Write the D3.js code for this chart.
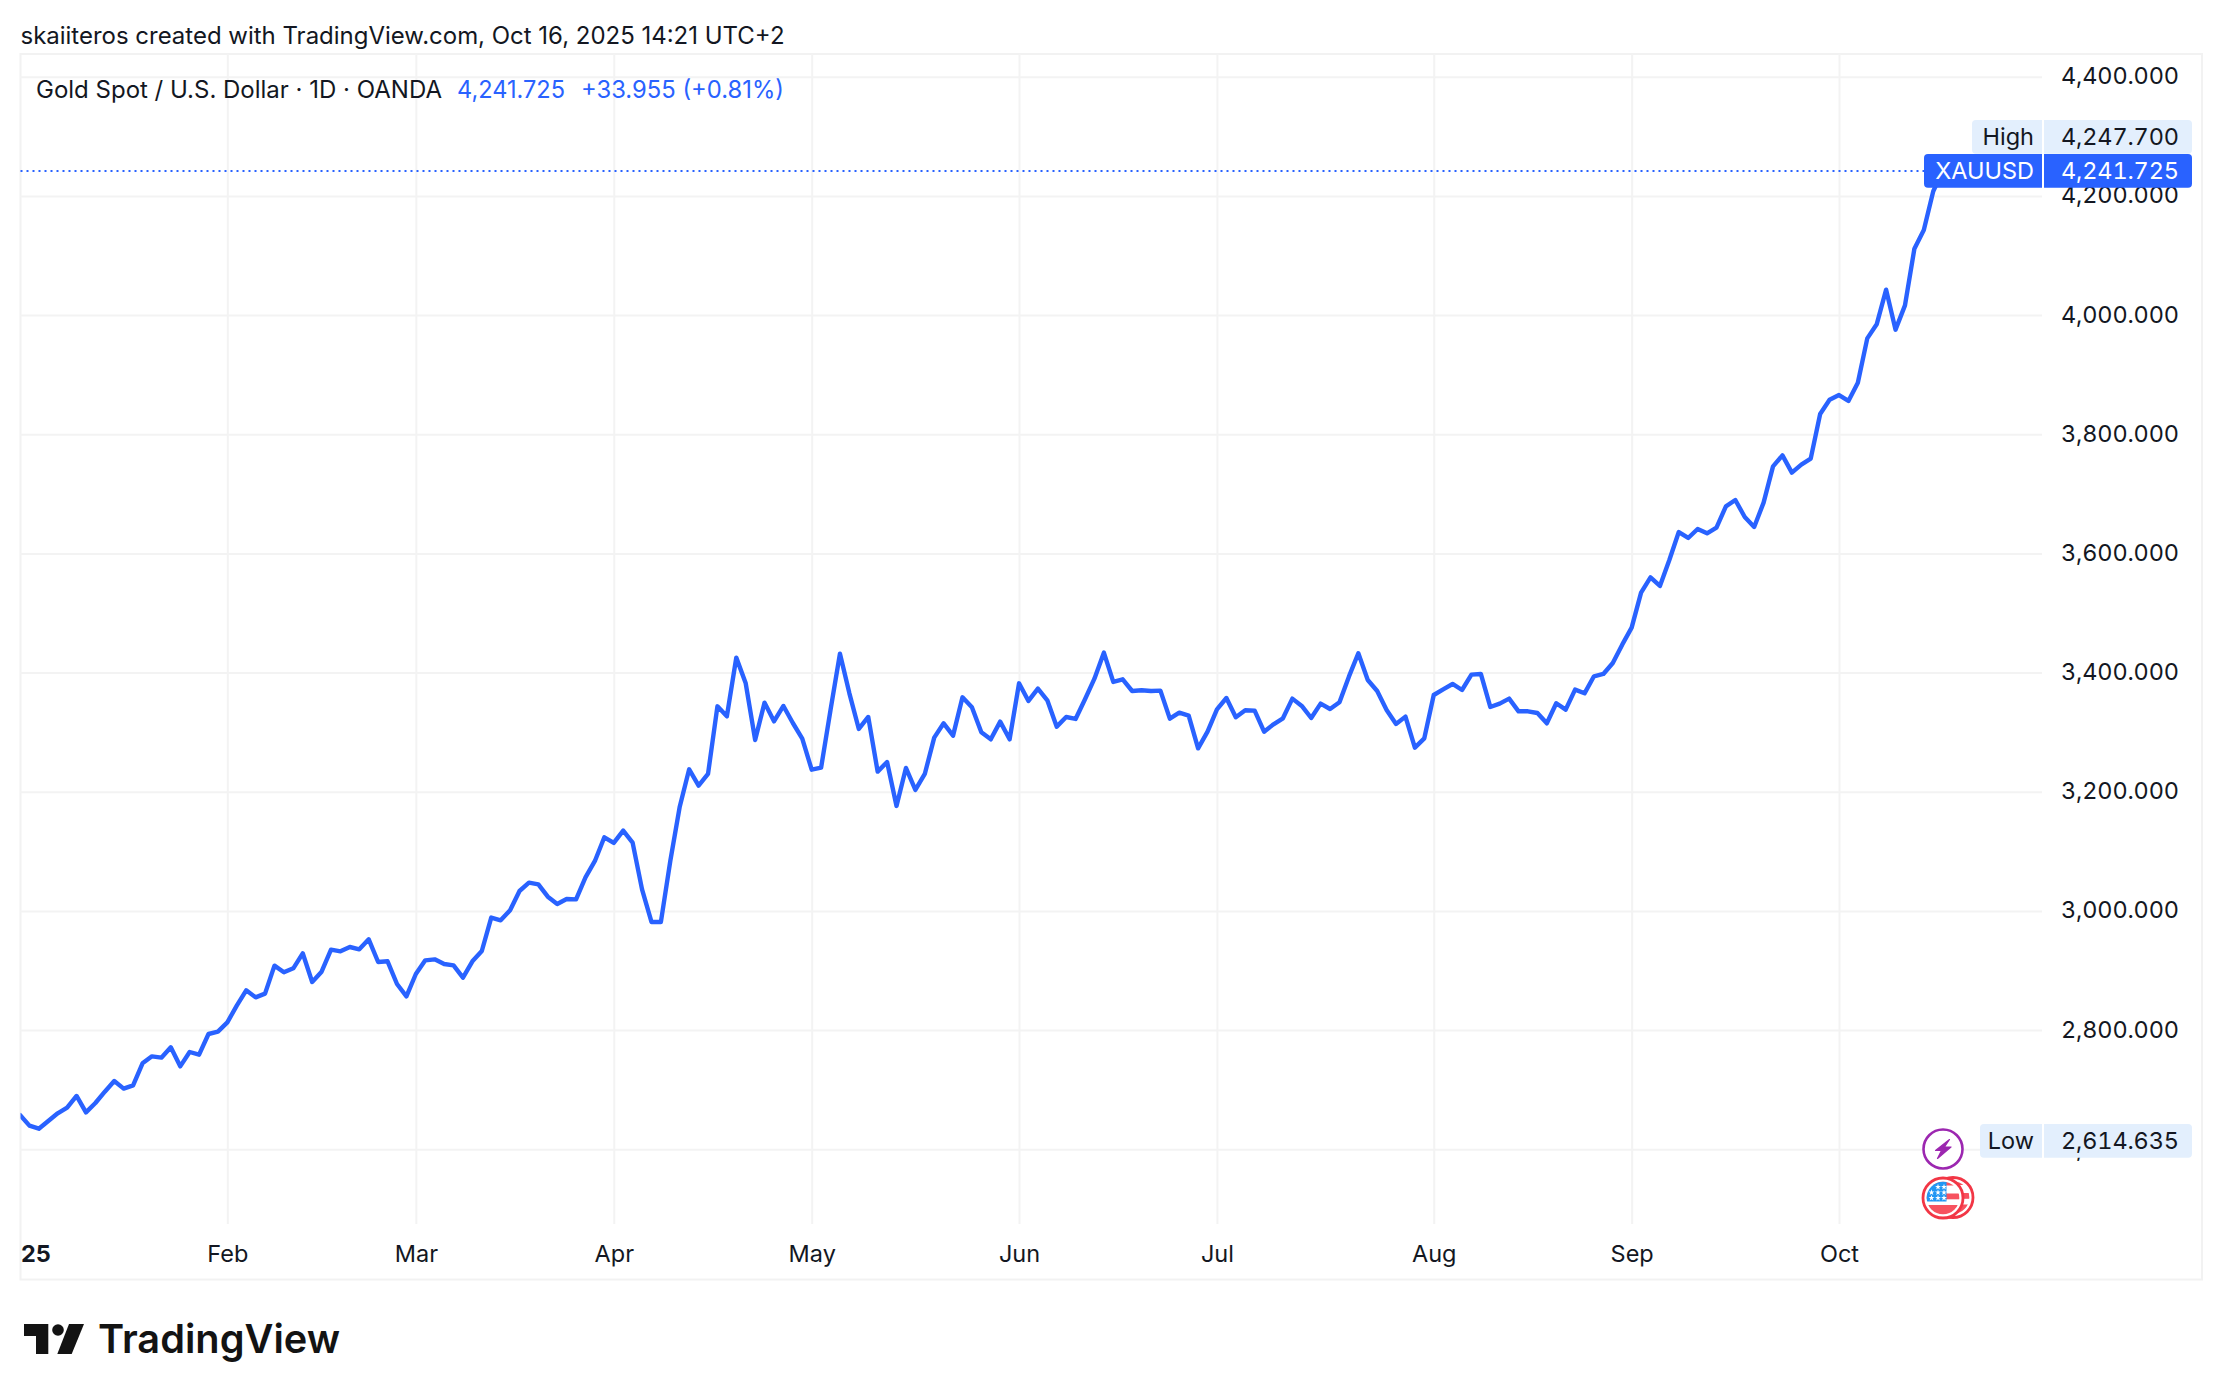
<!DOCTYPE html>
<html>
<head>
<meta charset="utf-8">
<title>XAUUSD daily</title>
<script src="https://cdnjs.cloudflare.com/ajax/libs/d3/7.8.5/d3.min.js"></script>
<style>
  html, body { margin: 0; padding: 0; background: #ffffff; }
  svg { display: block; }
  text { font-family: Inter, "Noto Sans", sans-serif; fill: #131722; }
</style>
</head>
<body>
<svg id="chart" width="2222" height="1400"></svg>
<script>
// Daily closes for XAUUSD, one entry per trading session from the start of 2025.
const closes = [
  2657.6,2639.7,2634.6,2647.5,2660.4,2669.9,2689.5,2662.0,2677.7,2696.7,
  2714.6,2701.8,2707.4,2744.3,2756.0,2753.8,2771.1,2739.2,2763.3,2758.8,
  2793.5,2797.4,2813.1,2841.1,2866.8,2855.0,2861.2,2908.2,2897.0,2903.7,
  2928.9,2880.8,2898.1,2935.0,2932.2,2939.5,2935.6,2952.4,2914.3,2915.5,
  2877.4,2856.7,2894.2,2917.1,2918.8,2911.0,2908.7,2888.0,2915.5,2932.8,
  2988.8,2984.3,3001.1,3033.5,3047.5,3044.7,3024.0,3011.7,3020.1,3019.5,
  3056.4,3083.9,3123.6,3114.1,3134.8,3114.6,3036.3,2981.5,2981.5,3083.9,
  3175.0,3237.7,3210.3,3229.9,3343.4,3326.6,3425.1,3382.0,3286.9,3349.6,
  3318.2,3344.0,3315.4,3289.2,3237.1,3240.5,3337.3,3431.8,3365.2,3305.4,
  3325.5,3233.8,3250.0,3176.2,3239.9,3203.0,3229.9,3290.8,3314.9,3294.2,
  3358.5,3341.7,3299.8,3288.0,3317.7,3288.0,3382.0,3352.4,3373.1,3353.5,
  3309.3,3325.5,3322.2,3355.2,3389.8,3433.5,3384.3,3388.7,3369.1,3370.3,
  3369.1,3369.7,3322.7,3332.8,3327.8,3272.9,3300.9,3338.4,3357.4,3325.0,
  3336.7,3336.1,3300.9,3313.2,3323.3,3356.3,3344.0,3323.8,3347.9,3338.9,
  3350.1,3393.2,3432.4,3387.6,3369.1,3337.3,3313.8,3326.1,3274.0,3289.7,
  3362.4,3371.9,3380.9,3370.8,3396.6,3397.7,3342.3,3347.9,3356.3,3335.0,
  3335.0,3332.2,3314.9,3348.5,3337.8,3371.4,3365.2,3393.8,3397.7,3416.1,
  3446.9,3475.4,3534.2,3559.9,3545.4,3588.9,3635.9,3625.9,3641.0,3633.7,
  3643.2,3679.0,3689.6,3661.1,3644.3,3685.2,3746.1,3764.6,3735.5,3748.9,
  3759.0,3834.0,3858.0,3865.8,3855.8,3886.5,3960.9,3984.4,4042.6,3975.5,
  4016.3,4111.4,4142.7,4207.77,4241.725
];

const priceTicks = [2600,2800,3000,3200,3400,3600,3800,4000,4200,4400];
const monthLabels = ["Feb","Mar","Apr","May","Jun","Jul","Aug","Sep","Oct"];
const monthFirstSession = [22,42,63,84,106,127,150,171,193];
const yearLabel = "25";

const lastPrice = 4241.725;
const periodHigh = 4247.700;
const periodLow = 2614.635;
const dayChange = 33.955;
const dayChangePct = 0.81;

const attribution = "skaiiteros created with TradingView.com, Oct 16, 2025 14:21 UTC+2";
const instrument = "Gold Spot / U.S. Dollar · 1D · OANDA";
const symbol = "XAUUSD";

// Frame geometry
const frame = { left: 20.5, right: 2202, top: 54, bottom: 1279.5 };
const paneRight = 2042, paneBottom = 1224;
const BLUE = "#2962ff", PALE = "#e3effd", GRID = "#f3f3f3", INK = "#131722";
const PRICE_END = 2179, PRICE_WIDTH = 118, TAG_RIGHT = 2192, VALUE_LEFT = 2044;
const AXIS_FONT = 23.5;

const svg = d3.select("#chart");
const x = d3.scaleLinear().domain([0, 193]).range([20, 1839]);
const y = d3.scaleLinear().domain([2600, 4400]).range([1149.3, 76.7]);
const price = d3.format(",.3f");

svg.append("defs").append("clipPath").attr("id", "pane")
  .append("rect").attr("x", frame.left).attr("y", frame.top)
  .attr("width", paneRight - frame.left).attr("height", paneBottom - frame.top);

// Outer frame
svg.append("rect")
  .attr("x", frame.left).attr("y", frame.top)
  .attr("width", frame.right - frame.left).attr("height", frame.bottom - frame.top)
  .attr("fill", "none").attr("stroke", "#f2f2f2").attr("stroke-width", 2);

// Price labels share one tabular width so the columns line up
function priceText(sel) {
  sel.attr("text-anchor", "end").attr("font-size", AXIS_FONT)
    .attr("font-family", "Inter")
    .style("font-variant-numeric", "tabular-nums")
    .attr("textLength", PRICE_WIDTH).attr("lengthAdjust", "spacing");
}

// Price axis with its horizontal grid
const yAxis = svg.append("g")
  .attr("transform", `translate(${paneRight},0)`)
  .call(d3.axisRight(y).tickValues(priceTicks).tickFormat(price)
    .tickSize(-(paneRight - frame.left)).tickPadding(0));
yAxis.select(".domain").remove();
yAxis.selectAll("line").attr("stroke", GRID).attr("stroke-width", 2);
yAxis.selectAll("text")
  .attr("x", PRICE_END - paneRight).attr("dy", null).attr("y", 7)
  .call(priceText);

// Time axis with its vertical grid
const xAxis = svg.append("g")
  .attr("transform", `translate(0,${paneBottom})`)
  .call(d3.axisBottom(x).tickValues(monthFirstSession)
    .tickFormat((d, i) => monthLabels[i])
    .tickSize(-(paneBottom - frame.top)).tickPadding(0));
xAxis.select(".domain").remove();
xAxis.selectAll("line").attr("stroke", GRID).attr("stroke-width", 2);
xAxis.selectAll("text")
  .attr("y", 38).attr("dy", null)
  .attr("font-size", AXIS_FONT).attr("font-family", "Inter");

svg.append("text").attr("x", 21).attr("y", 1262)
  .attr("font-size", AXIS_FONT).attr("font-weight", 700).text(yearLabel);

// Last-price dotted line
svg.append("line")
  .attr("x1", frame.left).attr("x2", 1924)
  .attr("y1", Math.round(y(lastPrice))).attr("y2", Math.round(y(lastPrice)))
  .attr("stroke", BLUE).attr("stroke-width", 2).attr("stroke-dasharray", "2 4");

// Close line
const line = d3.line().x((d, i) => x(i)).y(d => y(d));
svg.append("path").datum(closes)
  .attr("clip-path", "url(#pane)")
  .attr("d", line).attr("fill", "none")
  .attr("stroke", BLUE).attr("stroke-width", 4.4)
  .attr("stroke-linejoin", "round").attr("stroke-linecap", "round");

// Two-part price tag: a name block and a value block
function leftRound(x0, x1, y0, y1, r) {
  return `M${x1},${y0}H${x0 + r}Q${x0},${y0} ${x0},${y0 + r}V${y1 - r}Q${x0},${y1} ${x0 + r},${y1}H${x1}Z`;
}
function rightRound(x0, x1, y0, y1, r) {
  return `M${x0},${y0}H${x1 - r}Q${x1},${y0} ${x1},${y0 + r}V${y1 - r}Q${x1},${y1} ${x1 - r},${y1}H${x0}Z`;
}
function tag(name, value, nameLeft, top, fill, ink) {
  const g = svg.append("g");
  const bottom = top + 33.7;
  g.append("path").attr("d", leftRound(nameLeft, paneRight, top, bottom, 4)).attr("fill", fill);
  g.append("path").attr("d", rightRound(VALUE_LEFT, TAG_RIGHT, top, bottom, 4)).attr("fill", fill);
  g.append("text").attr("x", 2034).attr("y", top + 24.5).attr("text-anchor", "end")
    .attr("font-size", AXIS_FONT).style("fill", ink).text(name);
  g.append("text").attr("x", PRICE_END).attr("y", top + 24.5)
    .call(priceText).style("fill", ink).text(price(value));
}
tag("High", periodHigh, 1972, 120, PALE, INK);
tag(symbol, lastPrice, 1924, 154, BLUE, "#ffffff");
tag("Low", periodLow, 1980, 1124, PALE, INK);

// Header and legend
svg.append("text").attr("x", 20.5).attr("y", 44).attr("font-size", 24)
  .attr("textLength", 764).attr("lengthAdjust", "spacingAndGlyphs").text(attribution);
svg.append("text").attr("x", 36).attr("y", 98).attr("font-size", 24)
  .attr("textLength", 406).attr("lengthAdjust", "spacingAndGlyphs").text(instrument);
svg.append("text").attr("x", 457).attr("y", 98).attr("font-size", 24)
  .attr("textLength", 108).attr("lengthAdjust", "spacingAndGlyphs")
  .style("fill", BLUE).text(price(lastPrice));
svg.append("text").attr("x", 581).attr("y", 98).attr("font-size", 24)
  .attr("textLength", 203).attr("lengthAdjust", "spacingAndGlyphs")
  .style("fill", BLUE).text(`+${d3.format(".3f")(dayChange)} (+${d3.format(".2f")(dayChangePct)}%)`);

// Event markers beside the last bar
const bolt = svg.append("g").attr("transform", "translate(1943,1149)");
bolt.append("circle").attr("r", 19.5).attr("fill", "#fff")
  .attr("stroke", "#9c27b0").attr("stroke-width", 2.6);
bolt.append("path").attr("d", "M6.5,-9.5 L-7.5,1.5 L-1.5,1.5 L-5.5,9.5 L8,-2 L1.5,-2 Z")
  .attr("fill", "#9c27b0").attr("stroke", "#9c27b0").attr("stroke-width", 1.2)
  .attr("stroke-linejoin", "round");

const flagStripes = [[-17, 4.5], [-4.5, 5.8], [7, 10]];
function flag(cx, cy) {
  const g = svg.append("g").attr("transform", `translate(${cx},${cy})`);
  g.append("circle").attr("r", 20).attr("fill", "#fff")
    .attr("stroke", "#f23645").attr("stroke-width", 2.8);
  const id = `flag-${cx}`;
  g.append("clipPath").attr("id", id).append("circle").attr("r", 16.3);
  const art = g.append("g").attr("clip-path", `url(#${id})`);
  art.append("rect").attr("x", -17).attr("y", -17).attr("width", 34).attr("height", 34).attr("fill", "#fff");
  flagStripes.forEach(band => {
    art.append("rect").attr("x", -17).attr("y", band[0]).attr("width", 34).attr("height", band[1]).attr("fill", "#f7525f");
  });
  art.append("rect").attr("x", -17).attr("y", -17).attr("width", 20.5).attr("height", 20.5).attr("fill", "#2196f3");
  const star = d3.symbol().type(d3.symbolStar).size(11);
  [-11, -5.5, 0].forEach((sy, r) => {
    [-11.5, -5, 1].forEach((sx, c) => {
      if (r === 0 && c === 0) return;
      art.append("path").attr("d", star()).attr("transform", `translate(${sx},${sy})`).attr("fill", "#fff");
    });
  });
}
flag(1953, 1197.5);
flag(1943, 1198);

// Brand mark and wordmark
const brand = svg.append("g").attr("fill", "#131313");
brand.append("path").attr("d", "M24,1324H48.3V1354H36V1336H24Z");
brand.append("circle").attr("cx", 58).attr("cy", 1330).attr("r", 5.8);
brand.append("path").attr("d", "M69,1324H84L71.7,1354H57.3Z");
svg.append("text").attr("x", 98).attr("y", 1353)
  .attr("font-size", 40).attr("font-weight", 600).style("fill", "#131313")
  .attr("textLength", 242).attr("lengthAdjust", "spacingAndGlyphs").text("TradingView");
</script>
</body>
</html>
